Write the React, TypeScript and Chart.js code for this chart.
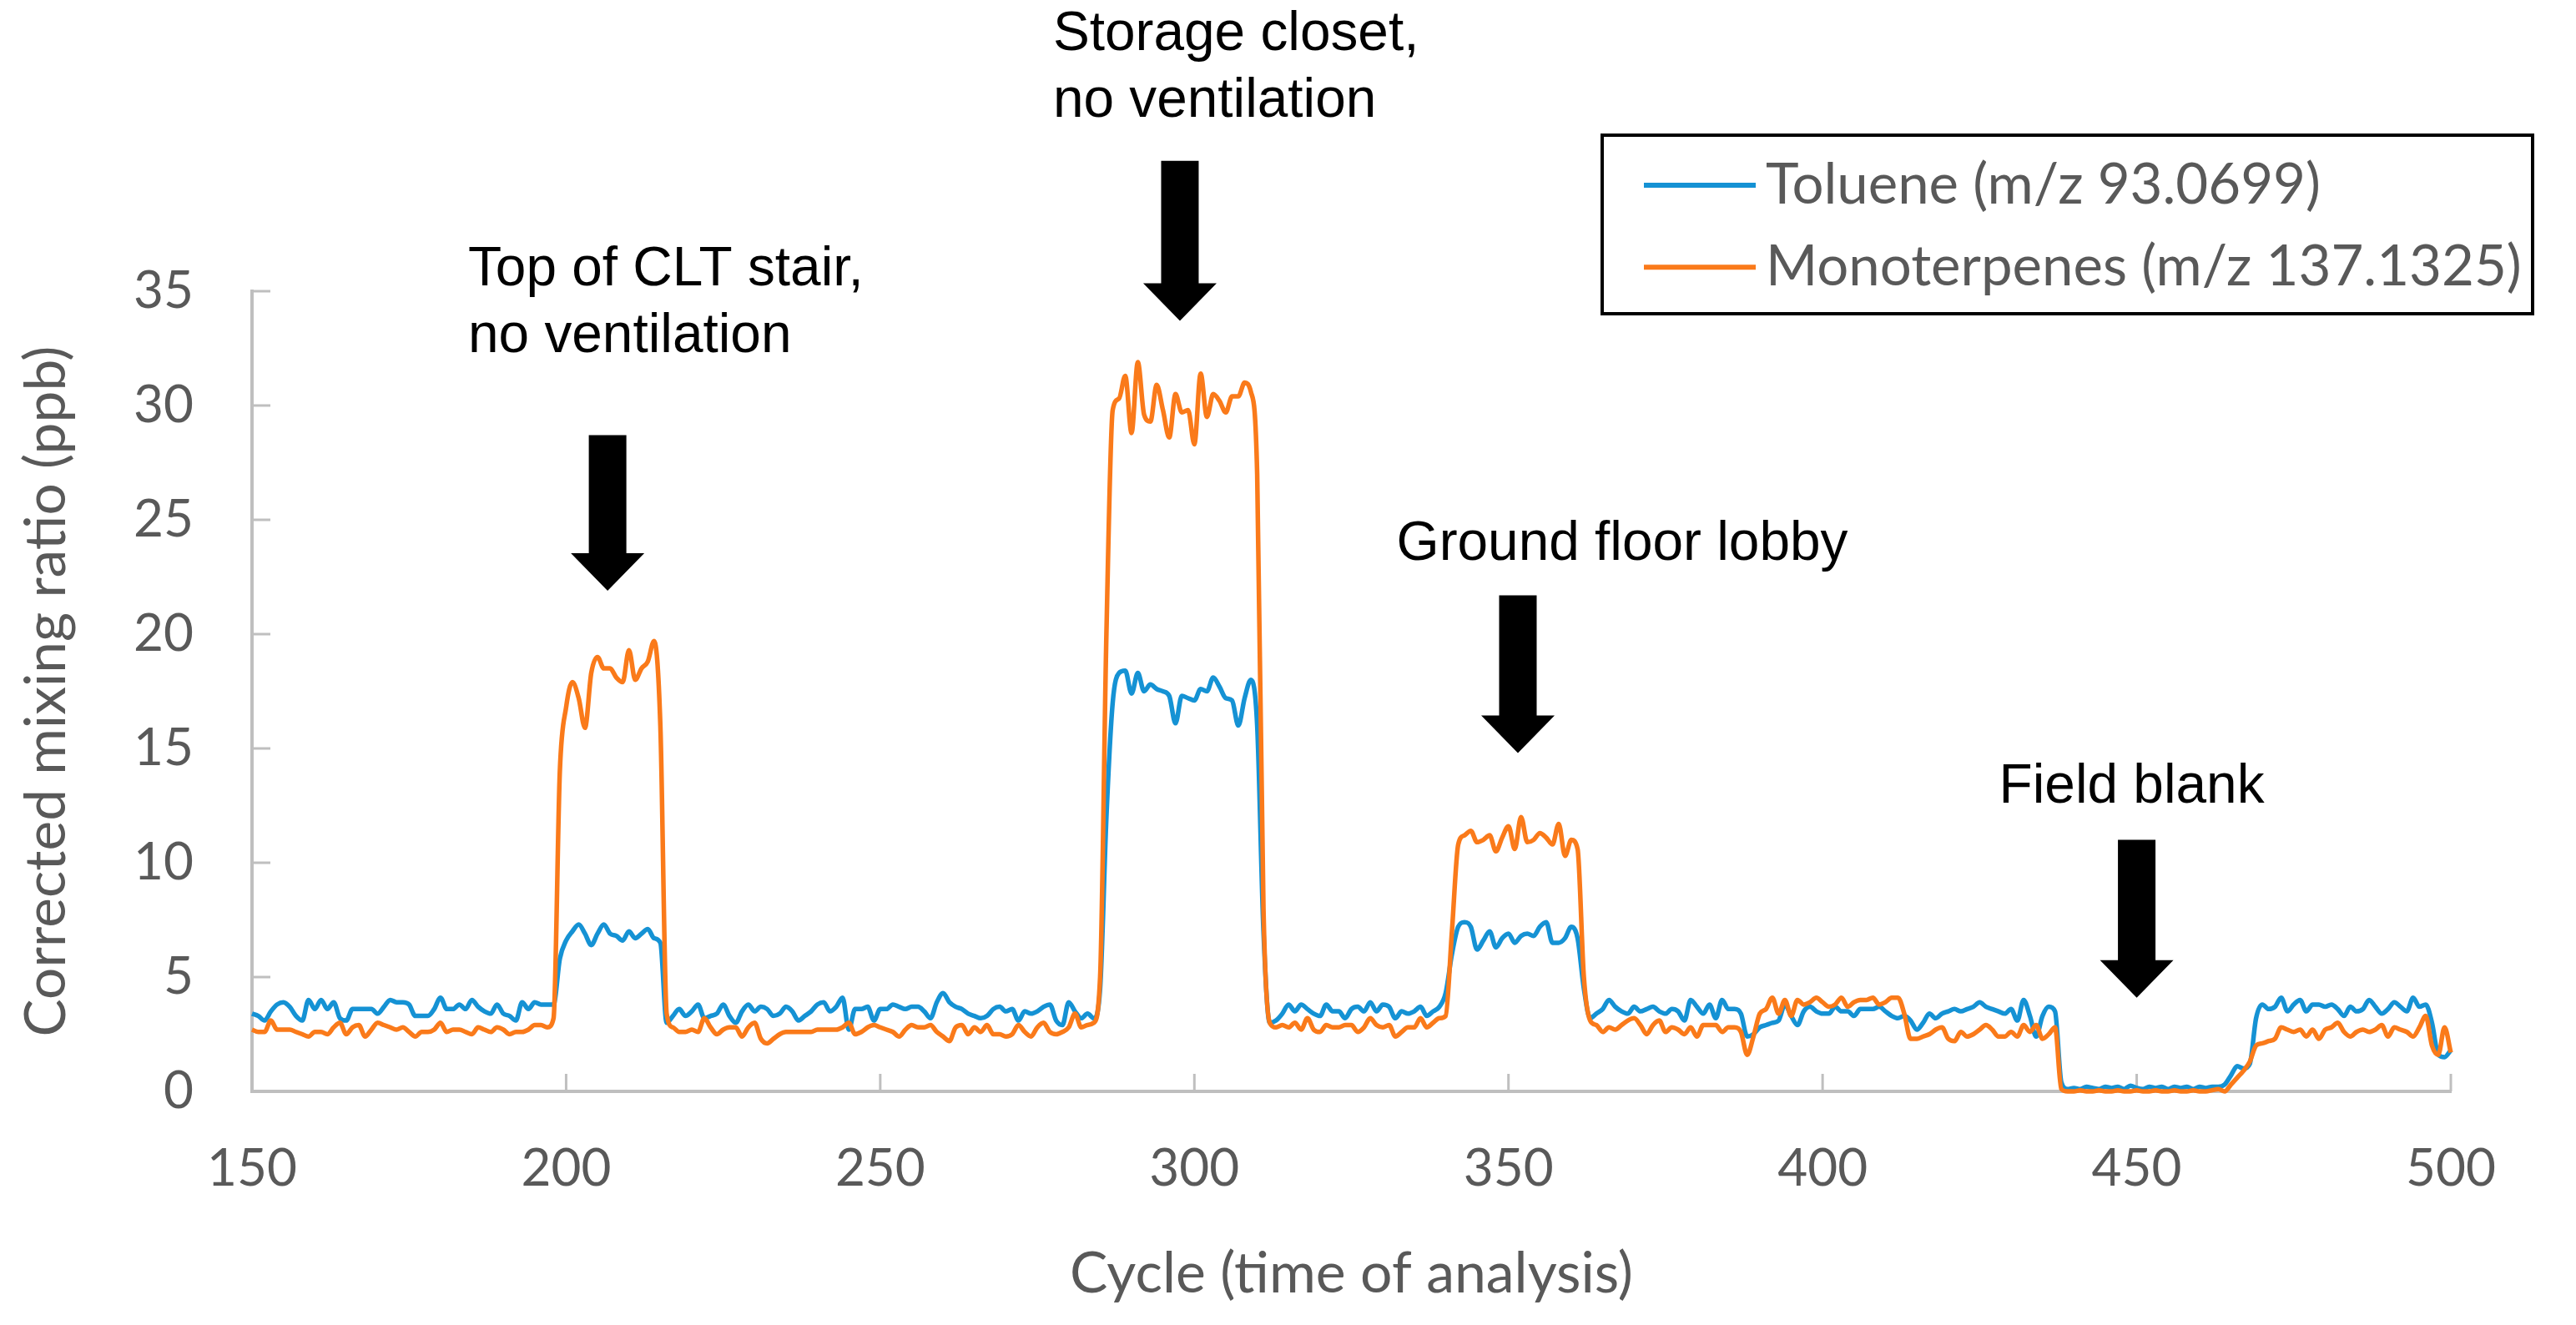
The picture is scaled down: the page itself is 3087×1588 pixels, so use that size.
import React, { useEffect, useRef } from 'react';
import { Chart, registerables } from 'chart.js';

Chart.register(...registerables);

// ---------------- data ----------------
const FIRST_CYCLE = 150;
const X_RANGE = [150, 500];
const Y_RANGE = [0, 35];
const X_STEP = 50;
const Y_STEP = 5;
const X_TITLE = 'Cycle (time of analysis)';
const Y_TITLE = 'Corrected mixing ratio (ppb)';
const SERIES_LABELS = ['Toluene (m/z 93.0699)', 'Monoterpenes (m/z 137.1325)'];

// one value per cycle, cycles 150..500
const TOLUENE = [
  3.4, 3.3, 3.1, 3.5, 3.8, 3.9, 3.7, 3.3, 3.1, 4.0,
  3.6, 4.0, 3.6, 3.9, 3.2, 3.1, 3.6, 3.6, 3.6, 3.6,
  3.4, 3.7, 4.0, 3.9, 3.9, 3.8, 3.3, 3.3, 3.3, 3.6,
  4.1, 3.6, 3.6, 3.8, 3.6, 4.0, 3.7, 3.5, 3.4, 3.8,
  3.4, 3.3, 3.1, 3.9, 3.6, 3.9, 3.8, 3.8, 3.8, 5.8,
  6.6, 7.0, 7.3, 6.9, 6.4, 6.9, 7.3, 6.9, 6.8, 6.6,
  7.0, 6.7, 6.9, 7.1, 6.7, 6.5, 3.0, 3.3, 3.6, 3.3,
  3.5, 3.8, 3.2, 3.3, 3.4, 3.8, 3.3, 3.0, 3.5, 3.8,
  3.5, 3.7, 3.6, 3.3, 3.4, 3.7, 3.5, 3.1, 3.3, 3.5,
  3.8, 3.9, 3.5, 3.7, 4.1, 2.7, 3.6, 3.6, 3.7, 3.1,
  3.6, 3.6, 3.8, 3.7, 3.6, 3.7, 3.7, 3.5, 3.2, 3.9,
  4.3, 3.9, 3.7, 3.6, 3.4, 3.3, 3.2, 3.3, 3.6, 3.7,
  3.5, 3.6, 3.1, 3.5, 3.4, 3.5, 3.7, 3.8, 3.1, 2.9,
  3.9, 3.5, 3.2, 3.4, 3.2, 4.5, 12.0, 17.0, 18.3, 18.4,
  17.4, 18.3, 17.5, 17.8, 17.6, 17.5, 17.3, 16.1, 17.3, 17.2,
  17.1, 17.6, 17.5, 18.1, 17.7, 17.2, 17.1, 16.0, 17.2, 18.0,
  16.0, 7.0, 3.0, 3.1, 3.4, 3.8, 3.5, 3.8, 3.6, 3.4,
  3.3, 3.8, 3.5, 3.5, 3.2, 3.6, 3.7, 3.5, 3.9, 3.5,
  3.8, 3.7, 3.2, 3.5, 3.4, 3.5, 3.7, 3.3, 3.5, 3.7,
  4.3, 6.0, 7.2, 7.4, 7.2, 6.2, 6.6, 7.0, 6.3, 6.7,
  6.9, 6.5, 6.8, 6.9, 6.8, 7.2, 7.4, 6.5, 6.5, 6.7,
  7.2, 6.7, 4.5, 3.2, 3.4, 3.6, 4.0, 3.7, 3.5, 3.4,
  3.7, 3.5, 3.6, 3.7, 3.5, 3.4, 3.6, 3.5, 3.1, 4.0,
  3.7, 3.4, 3.8, 3.2, 4.0, 3.6, 3.6, 3.4, 2.4, 2.5,
  2.8, 2.9, 3.0, 3.1, 3.8, 3.3, 2.9, 3.5, 3.7, 3.5,
  3.4, 3.4, 3.7, 3.5, 3.5, 3.3, 3.6, 3.6, 3.6, 3.7,
  3.5, 3.3, 3.2, 3.3, 3.1, 2.7, 3.0, 3.4, 3.2, 3.4,
  3.5, 3.6, 3.5, 3.6, 3.7, 3.9, 3.7, 3.6, 3.5, 3.4,
  3.6, 3.1, 4.0, 3.3, 2.4, 3.3, 3.7, 3.5, 0.4, 0.1,
  0.15, 0.1, 0.2, 0.15, 0.1, 0.2, 0.15, 0.2, 0.1, 0.25,
  0.15, 0.1, 0.2, 0.15, 0.2, 0.1, 0.2, 0.15, 0.2, 0.1,
  0.2, 0.15, 0.2, 0.2, 0.3, 0.7, 1.1, 1.0, 1.2, 3.2,
  3.8, 3.6, 3.7, 4.1, 3.5, 3.8, 4.0, 3.5, 3.8, 3.8,
  3.7, 3.8, 3.6, 3.3, 3.7, 3.5, 3.6, 4.0, 3.7, 3.4,
  3.6, 3.9, 3.7, 3.5, 4.1, 3.7, 3.8, 3.0, 1.6, 1.5,
  1.8,
];

const MONOTERPENES = [
  2.7, 2.6, 2.6, 3.1, 2.7, 2.7, 2.7, 2.6, 2.5, 2.4,
  2.6, 2.6, 2.5, 2.8, 3.0, 2.5, 2.8, 2.9, 2.4, 2.7,
  3.0, 2.9, 2.8, 2.7, 2.8, 2.6, 2.4, 2.6, 2.6, 2.7,
  3.0, 2.6, 2.7, 2.7, 2.6, 2.5, 2.8, 2.7, 2.6, 2.8,
  2.7, 2.5, 2.6, 2.6, 2.7, 2.9, 2.9, 2.8, 3.2, 14.0,
  16.8, 17.9, 17.2, 15.9, 18.3, 19.0, 18.5, 18.5, 18.1, 17.9,
  19.3, 18.0, 18.5, 18.8, 19.7, 16.0, 3.4, 2.8, 2.6, 2.6,
  2.7, 2.6, 3.2, 2.8, 2.5, 2.7, 2.8, 2.8, 2.4, 2.8,
  3.0, 2.3, 2.1, 2.3, 2.5, 2.6, 2.6, 2.6, 2.6, 2.6,
  2.7, 2.7, 2.7, 2.7, 2.8, 3.0, 2.5, 2.6, 2.8, 2.9,
  2.8, 2.7, 2.6, 2.4, 2.7, 2.9, 2.8, 2.8, 2.9, 2.6,
  2.4, 2.2, 2.8, 2.9, 2.5, 2.8, 2.6, 2.9, 2.5, 2.5,
  2.4, 2.5, 2.9, 2.6, 2.4, 2.8, 3.0, 2.6, 2.5, 2.6,
  2.8, 3.4, 2.8, 2.9, 3.0, 5.0, 20.0, 29.8, 30.3, 31.3,
  28.8, 31.9, 29.6, 29.3, 30.9, 29.8, 28.6, 30.5, 29.7, 29.8,
  28.3, 31.4, 29.5, 30.5, 30.2, 29.7, 30.4, 30.4, 31.0, 30.6,
  27.0, 8.0, 3.0, 2.8, 2.9, 2.8, 3.0, 2.7, 3.2, 2.7,
  2.6, 2.9, 2.8, 2.8, 2.9, 2.9, 2.6, 2.8, 3.2, 2.9,
  2.8, 2.9, 2.4, 2.6, 2.8, 2.8, 3.2, 2.8, 3.0, 3.2,
  3.3, 7.0, 10.8, 11.2, 11.4, 10.9, 11.0, 11.2, 10.5, 11.1,
  11.6, 10.6, 12.0, 10.9, 11.0, 11.3, 11.1, 10.8, 11.7, 10.3,
  11.0, 10.6, 5.0, 3.1, 2.9, 2.6, 2.8, 2.7, 2.9, 3.1,
  3.2, 2.9, 2.5, 2.9, 3.1, 2.6, 2.8, 2.7, 2.5, 2.8,
  2.4, 2.9, 2.9, 2.9, 2.6, 2.8, 2.8, 2.6, 1.6, 2.4,
  3.4, 3.6, 4.1, 3.4, 4.0, 3.3, 4.0, 3.8, 3.9, 4.1,
  3.9, 3.7, 3.8, 4.1, 3.7, 3.9, 4.0, 4.0, 4.1, 3.8,
  3.9, 4.1, 4.1, 3.4, 2.3, 2.3, 2.4, 2.5, 2.7, 2.8,
  2.3, 2.2, 2.6, 2.4, 2.5, 2.7, 2.9, 2.7, 2.4, 2.4,
  2.6, 2.4, 2.9, 2.6, 2.9, 2.3, 2.5, 2.8, 0.1, 0.0,
  0.0, 0.05, 0.0, 0.0, 0.05, 0.0, 0.0, 0.05, 0.0, 0.0,
  0.05, 0.0, 0.0, 0.05, 0.0, 0.0, 0.05, 0.0, 0.0, 0.05,
  0.0, 0.0, 0.05, 0.1, 0.0, 0.3, 0.6, 0.9, 1.3, 2.0,
  2.1, 2.2, 2.3, 2.8, 2.7, 2.6, 2.7, 2.4, 2.7, 2.3,
  2.7, 2.8, 3.0, 2.6, 2.4, 2.6, 2.7, 2.6, 2.7, 2.9,
  2.4, 2.8, 2.7, 2.6, 2.4, 2.8, 3.3, 2.0, 1.6, 2.8,
  1.7,
];

// annotation texts and the cycle each arrow points at
const ANNOTATION_TEXTS = [
  ['Top of CLT stair,', 'no ventilation'],
  ['Storage closet,', 'no ventilation'],
  ['Ground floor lobby'],
  ['Field blank'],
];
const ANNOTATION_CYCLES = [206.6, 297.7, 351.5, 450.0];

// ---------------- layout / style ----------------
const W = 3087;
const H = 1588;
const AREA = { left: 302, right: 2937, top: 349, bottom: 1308 };
const GRAY_TEXT = '#595959';
const AXIS_GRAY = '#bfbfbf';
const COLORS = ['#1592d4', '#fa7a1a'];
const SANS = 'Lato';
const ARIAL = '"Liberation Sans", Arial, sans-serif';

// annotation placement (value-space anchors for text and arrow)
const ANNOT_LAYOUT = [
  { textX: 184.4, textY: 35.9, align: 'left', arrowTop: 28.7, arrowTip: 21.9 },
  { textX: 277.5, textY: 46.2, align: 'left', arrowTop: 40.7, arrowTip: 33.7 },
  { textX: 368.1, textY: 23.9, align: 'center', arrowTop: 21.7, arrowTip: 14.8 },
  { textX: 449.2, textY: 13.3, align: 'center', arrowTop: 11.0, arrowTip: 4.1 },
];

function fitSize(text: string, family: string, target: number): number {
  const c = document.createElement('canvas').getContext('2d')!;
  c.font = `100px ${family}`;
  const w = c.measureText(text).width || 1;
  return (100 * target) / w;
}

export default function App() {
  const ref = useRef<HTMLCanvasElement | null>(null);

  useEffect(() => {
    const canvas = ref.current;
    if (!canvas) return;

    const tickSize = fitSize('150', SANS, 108);
    const yTitleSize = fitSize(Y_TITLE, SANS, 828);
    const xTitleSize = fitSize(X_TITLE, SANS, 675);
    const legendSize = fitSize(SERIES_LABELS[1], SANS, 906);
    const annotSize = fitSize('Ground floor lobby', ARIAL, 541);

    const toPoints = (arr: number[]) => arr.map((v, i) => ({ x: FIRST_CYCLE + i, y: v }));

    const decor = {
      id: 'decor',
      beforeDatasetsDraw(chart: any) {
        const { ctx, chartArea } = chart;
        const xs = chart.scales.x;
        const ys = chart.scales.y;
        ctx.save();
        ctx.strokeStyle = AXIS_GRAY;
        ctx.lineWidth = 3;
        xs.ticks.forEach((t: any) => {
          const px = xs.getPixelForValue(t.value);
          ctx.beginPath();
          ctx.moveTo(px, chartArea.bottom);
          ctx.lineTo(px, chartArea.bottom - 21);
          ctx.stroke();
        });
        ys.ticks.forEach((t: any) => {
          const py = ys.getPixelForValue(t.value);
          ctx.beginPath();
          ctx.moveTo(chartArea.left, py);
          ctx.lineTo(chartArea.left + 22, py);
          ctx.stroke();
        });
        ctx.restore();
      },
      afterDraw(chart: any) {
        const { ctx } = chart;
        const xs = chart.scales.x;
        const ys = chart.scales.y;
        ctx.save();

        // legend
        const box = { x: 1920, y: 162, w: 1115, h: 214 };
        ctx.fillStyle = '#ffffff';
        ctx.fillRect(box.x, box.y, box.w, box.h);
        ctx.strokeStyle = '#000000';
        ctx.lineWidth = 4;
        ctx.strokeRect(box.x, box.y, box.w, box.h);
        const rows = [box.y + box.h * 0.28, box.y + box.h * 0.74];
        chart.data.datasets.forEach((ds: any, i: number) => {
          const cy = rows[i];
          ctx.strokeStyle = ds.borderColor;
          ctx.lineWidth = 6;
          ctx.beginPath();
          ctx.moveTo(1970, cy);
          ctx.lineTo(2104, cy);
          ctx.stroke();
          ctx.fillStyle = GRAY_TEXT;
          ctx.font = `${legendSize}px ${SANS}`;
          ctx.textAlign = 'left';
          ctx.textBaseline = 'middle';
          ctx.fillText(ds.label, 2116, cy);
        });

        // annotations
        ANNOTATION_TEXTS.forEach((lines, i) => {
          const L = ANNOT_LAYOUT[i];
          const tx = xs.getPixelForValue(L.textX);
          const ty = ys.getPixelForValue(L.textY);
          ctx.fillStyle = '#000000';
          ctx.font = `${annotSize}px ${ARIAL}`;
          ctx.textAlign = L.align;
          ctx.textBaseline = 'middle';
          lines.forEach((s, k) => ctx.fillText(s, tx, ty + k * 80));

          const ax = xs.getPixelForValue(ANNOTATION_CYCLES[i]);
          const top = ys.getPixelForValue(L.arrowTop);
          const tip = ys.getPixelForValue(L.arrowTip);
          const headLen = 45;
          const shaftHalf = 22.5;
          const headHalf = 44;
          ctx.beginPath();
          ctx.moveTo(ax - shaftHalf, top);
          ctx.lineTo(ax + shaftHalf, top);
          ctx.lineTo(ax + shaftHalf, tip - headLen);
          ctx.lineTo(ax + headHalf, tip - headLen);
          ctx.lineTo(ax, tip);
          ctx.lineTo(ax - headHalf, tip - headLen);
          ctx.lineTo(ax - shaftHalf, tip - headLen);
          ctx.closePath();
          ctx.fill();
        });
        ctx.restore();
      },
    };

    const chart = new Chart(canvas, {
      type: 'line',
      data: {
        datasets: [
          {
            label: SERIES_LABELS[0],
            data: toPoints(TOLUENE),
            borderColor: COLORS[0],
            backgroundColor: COLORS[0],
            borderWidth: 5.5,
            pointRadius: 0,
            cubicInterpolationMode: 'monotone',
            fill: false,
            order: 1,
            clip: 8,
          },
          {
            label: SERIES_LABELS[1],
            data: toPoints(MONOTERPENES),
            borderColor: COLORS[1],
            backgroundColor: COLORS[1],
            borderWidth: 5.5,
            pointRadius: 0,
            cubicInterpolationMode: 'monotone',
            fill: false,
            order: 0,
            clip: 8,
          },
        ],
      },
      options: {
        animation: false,
        responsive: false,
        devicePixelRatio: 1,
        events: [],
        layout: {
          padding: { left: 0, right: W - AREA.right, top: AREA.top, bottom: 0 },
        },
        plugins: {
          legend: { display: false },
          tooltip: { enabled: false },
          title: { display: false },
        },
        scales: {
          x: {
            type: 'linear',
            min: X_RANGE[0],
            max: X_RANGE[1],
            grid: { display: false, drawTicks: false },
            border: { display: true, color: AXIS_GRAY, width: 4 },
            ticks: {
              stepSize: X_STEP,
              autoSkip: false,
              maxRotation: 0,
              color: GRAY_TEXT,
              font: { family: SANS, size: tickSize },
              padding: 1401 - AREA.bottom - 0.6 * tickSize,
            },
            title: {
              display: true,
              text: X_TITLE,
              color: GRAY_TEXT,
              font: { family: SANS, size: xTitleSize },
              padding: { top: 0, bottom: H - 1527 - 0.6 * xTitleSize },
            },
            afterFit: (s: any) => {
              s.height = H - AREA.bottom;
            },
          },
          y: {
            type: 'linear',
            min: Y_RANGE[0],
            max: Y_RANGE[1],
            grid: { display: false, drawTicks: false },
            border: { display: true, color: AXIS_GRAY, width: 4 },
            ticks: {
              stepSize: Y_STEP,
              autoSkip: false,
              color: GRAY_TEXT,
              font: { family: SANS, size: tickSize },
              padding: AREA.left - 232,
            },
            title: {
              display: true,
              text: Y_TITLE,
              color: GRAY_TEXT,
              font: { family: SANS, size: yTitleSize },
              padding: { top: 56 - 0.6 * yTitleSize, bottom: 0 },
            },
            afterFit: (s: any) => {
              s.width = AREA.left;
            },
          },
        },
      },
      plugins: [decor],
    } as any);

    return () => chart.destroy();
  }, []);

  return (
    <div style={{ position: 'absolute', left: 0, top: 0, width: W, height: H, background: '#ffffff' }}>
      <canvas ref={ref} width={W} height={H} style={{ display: 'block', width: W, height: H }} />
    </div>
  );
}
